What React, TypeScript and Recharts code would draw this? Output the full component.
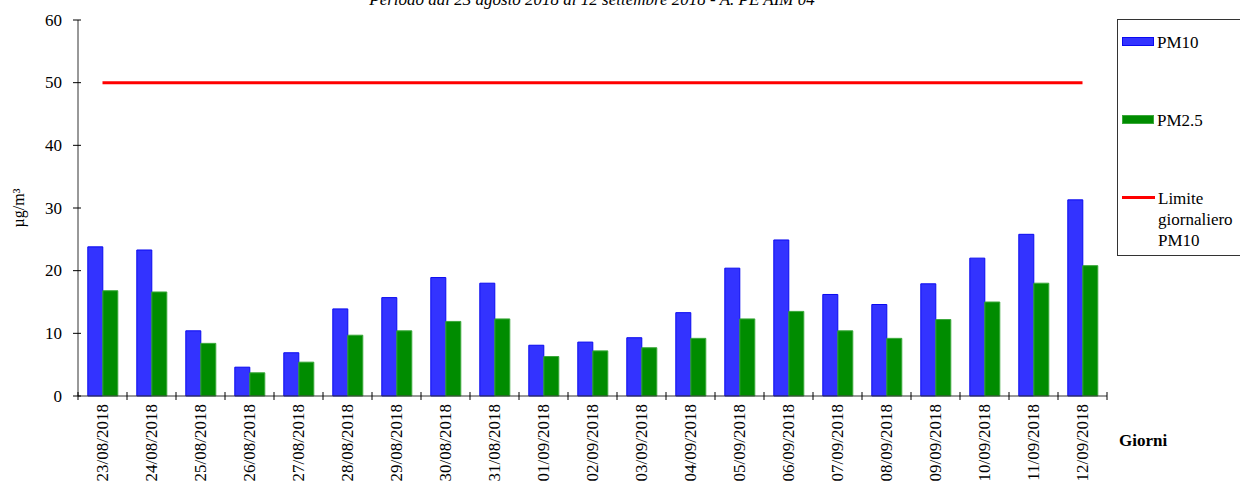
import { ComposedChart, Bar, Line, XAxis, YAxis } from "recharts";

const giorni = [
  "23/08/2018", "24/08/2018", "25/08/2018", "26/08/2018", "27/08/2018", "28/08/2018", "29/08/2018",
  "30/08/2018", "31/08/2018", "01/09/2018", "02/09/2018", "03/09/2018", "04/09/2018", "05/09/2018",
  "06/09/2018", "07/09/2018", "08/09/2018", "09/09/2018", "10/09/2018", "11/09/2018", "12/09/2018",
];
const pm10 = [23.8, 23.3, 10.4, 4.6, 6.9, 13.9, 15.7, 18.9, 18.0, 8.1, 8.6, 9.3, 13.3, 20.4, 24.9, 16.2, 14.6, 17.9, 22.0, 25.8, 31.3];
const pm25 = [16.8, 16.6, 8.4, 3.7, 5.4, 9.7, 10.4, 11.9, 12.3, 6.3, 7.2, 7.7, 9.2, 12.3, 13.5, 10.4, 9.2, 12.2, 15.0, 18.0, 20.8];
const limite = 50;
const yTicks = [0, 10, 20, 30, 40, 50, 60];

const titolo = "Periodo dal 23 agosto 2018 al 12 settembre 2018 - A. PE AIM 04";
const legenda = [
  { name: "PM10", color: "#3333ff", tipo: "bar" },
  { name: "PM2.5", color: "#008c00", tipo: "bar" },
  { name: "Limite giornaliero PM10", color: "#ff0000", tipo: "line" },
];

const data = giorni.map((g, i) => ({ giorno: g, pm10: pm10[i], pm25: pm25[i], limite }));

const FONT = "'Liberation Serif', 'Times New Roman', serif";
const W = 1240;
const H = 489;
const RIGHT = 133;
const YW = 78;
const BAND = (W - RIGHT - YW) / giorni.length;

const XTick = ({ x, y, payload, index }: any) => (
  <g>
    <line x1={x - BAND / 2} x2={x - BAND / 2} y1={y - 4} y2={y + 4} stroke="#000" />
    {index === giorni.length - 1 && (
      <line x1={x + BAND / 2} x2={x + BAND / 2} y1={y - 4} y2={y + 4} stroke="#000" />
    )}
    <text
      x={x}
      y={y + 8}
      transform={`rotate(-90, ${x}, ${y + 8})`}
      textAnchor="end"
      dominantBaseline="central"
      fontFamily={FONT}
      fontSize={17}
      fill="#000"
    >
      {payload.value}
    </text>
  </g>
);

const YTick = ({ x, y, payload }: any) => (
  <g>
    <line x1={x - 5} x2={x + 3} y1={y} y2={y} stroke="#000" />
    <text x={x - 16} y={y} textAnchor="end" dominantBaseline="central" fontFamily={FONT} fontSize={17} fill="#000">
      {payload.value}
    </text>
  </g>
);

export default function App() {
  return (
    <div style={{ position: "absolute", left: 0, top: 0, width: W, height: H, overflow: "hidden", background: "#fff", fontFamily: FONT }}>
      <div
        style={{
          position: "absolute", left: 0, width: 1184, top: -9, textAlign: "center",
          fontStyle: "italic", fontSize: 17, lineHeight: "17px", whiteSpace: "nowrap",
        }}
      >
        {titolo}
      </div>
      <ComposedChart width={W} height={H} data={data} margin={{ top: 20, right: RIGHT, left: 0, bottom: 0 }} barCategoryGap="20%" barGap={0}>
        <XAxis
          dataKey="giorno"
          interval={0}
          height={93}
          tickSize={0}
          tickMargin={0}
          tickLine={false}
          stroke="#333"
          tick={<XTick />}
        />
        <YAxis
          width={YW}
          domain={[0, 60]}
          ticks={yTicks}
          tickSize={0}
          tickMargin={0}
          tickLine={false}
          stroke="#333"
          tick={<YTick />}
          label={{ value: "µg/m³", angle: -90, position: "insideLeft", offset: 18, style: { fontFamily: FONT, fontSize: 16, fill: "#000", textAnchor: "middle" } }}
        />
        <Bar dataKey="pm10" name="PM10" fill="#3333ff" stroke="#0a0af0" strokeWidth={1} isAnimationActive={false} />
        <Bar dataKey="pm25" name="PM2.5" fill="#008c00" stroke="#3aa83a" strokeWidth={1} isAnimationActive={false} />
        <Line dataKey="limite" name="Limite giornaliero PM10" stroke="#ff0000" strokeWidth={3} dot={false} activeDot={false} isAnimationActive={false} />
      </ComposedChart>
      <div style={{ position: "absolute", left: 1119, top: 431, fontWeight: "bold", fontSize: 17 }}>Giorni</div>
      <div style={{ position: "absolute", left: 1117, top: 19, width: 140, height: 237, border: "1px solid #333", boxSizing: "border-box" }}>
        {legenda.map((l, i) => {
          const top = [12, 90, 168][i];
          return (
            <div key={l.name} style={{ position: "absolute", left: 4, top, display: "flex", alignItems: "flex-start" }}>
              {l.tipo === "bar" ? (
                <span style={{ display: "inline-block", width: 32, height: 9, marginTop: 5, background: l.color, border: `1px solid ${i === 0 ? "#0a0af0" : "#3aa83a"}`, boxSizing: "border-box" }} />
              ) : (
                <span style={{ display: "inline-block", width: 33, height: 3, marginTop: 8, background: l.color }} />
              )}
              <span style={{ marginLeft: 3, fontSize: 17, lineHeight: "21px", width: 90 }}>{l.name}</span>
            </div>
          );
        })}
      </div>
    </div>
  );
}
